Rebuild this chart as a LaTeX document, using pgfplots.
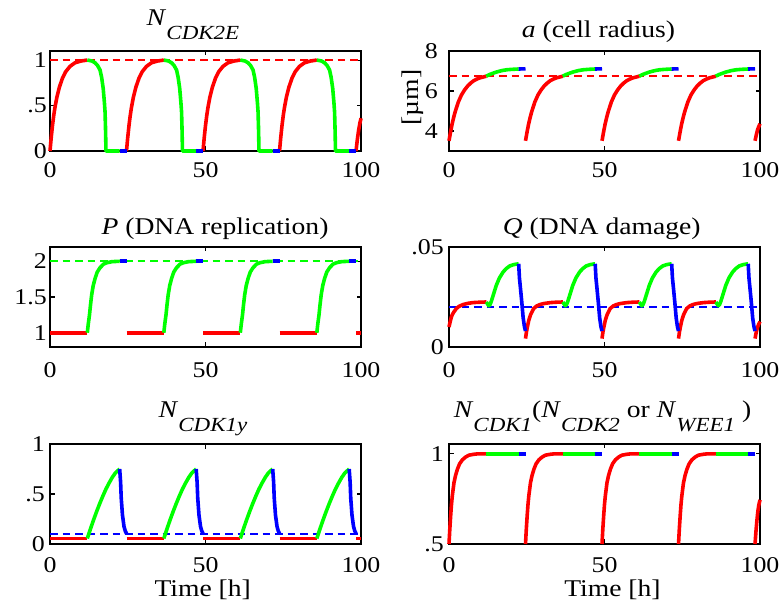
\documentclass[border=0pt]{standalone}
\usepackage{fontspec}
\setmainfont{Liberation Serif}
\usepackage{graphicx}
\usepackage{pgfplots}
\pgfplotsset{compat=1.18}
\newcommand\sx[1]{\scalebox{1.15}[1]{#1}}
\newcommand\sub[1]{\raisebox{-14bp}{\fontsize{20bp}{21bp}\selectfont\textit{#1}}}
\definecolor{mred}{rgb}{1,0,0}
\definecolor{mgreen}{rgb}{0,1,0}
\definecolor{mblue}{rgb}{0,0,1}
\pgfplotsset{
  mat/.style={
    scale only axis, width=311bp, height=100bp, anchor=south west,
    xmin=0, xmax=100, xtick={0,50,100}, xticklabels={\sx{0},\sx{50},\sx{100}},
    scaled ticks=false,
    tick align=inside, xtick pos=both, ytick pos=both,
    xticklabel pos=lower, yticklabel pos=left,
    major tick length=4.5bp,
    axis line style={line width=1.3bp, black},
    every tick/.style={black, line width=1.1bp},
    tick label style={font=\fontsize{22.5bp}{24bp}\selectfont, inner sep=0pt},
    xticklabel style={anchor=north},
    yticklabel style={anchor=east},
    clip=false,
  },
  r/.style={mred, line width=3.6bp, line join=round},
  g/.style={mgreen, line width=3.6bp, line join=round},
  b/.style={mblue, line width=3.6bp, line join=round},
  rd/.style={mred, line width=1.9bp, dash pattern=on 7.5bp off 5bp},
  gd/.style={mgreen, line width=1.9bp, dash pattern=on 7.5bp off 5bp},
  bd/.style={mblue, line width=1.9bp, dash pattern=on 7.5bp off 5bp},
}
\begin{document}
\begin{tikzpicture}
\path[use as bounding box] (0,0) rectangle (781bp,610bp);
\fontsize{24bp}{28bp}\selectfont
% ---------------- P1 N_CDK2E
\begin{axis}[mat, at={(50bp,459bp)}, ymin=0, ymax=1.1, ytick={0,0.5,1}, yticklabels={\sx{0},\sx{.5},\sx{1}}, xticklabel style={yshift=-11bp}, yticklabel style={xshift=-3bp}]
\addplot[rd] coordinates {(0,1) (100,1)};
\addplot[r] coordinates {(0,0) (0.4,0.15) (0.8,0.28) (1.2,0.39) (1.6,0.48) (2.2,0.59) (3,0.70) (4,0.80) (5,0.87) (6.4,0.93) (8,0.97) (10,0.99) (12,1.0)};
\addplot[r] coordinates {(24.6,0) (25.0,0.15) (25.4,0.28) (25.8,0.39) (26.2,0.48) (26.8,0.59) (27.6,0.70) (28.6,0.80) (29.6,0.87) (31.0,0.93) (32.6,0.97) (34.6,0.99) (36.6,1.0)};
\addplot[r] coordinates {(49.2,0) (49.6,0.15) (50.0,0.28) (50.4,0.39) (50.8,0.48) (51.4,0.59) (52.2,0.70) (53.2,0.80) (54.2,0.87) (55.6,0.93) (57.2,0.97) (59.2,0.99) (61.2,1.0)};
\addplot[r] coordinates {(73.8,0) (74.2,0.15) (74.6,0.28) (75.0,0.39) (75.4,0.48) (76.0,0.59) (76.8,0.70) (77.8,0.80) (78.8,0.87) (80.2,0.93) (81.8,0.97) (83.8,0.99) (85.8,1.0)};
\addplot[r] coordinates {(98.4,0) (98.8,0.12) (99.2,0.22) (99.6,0.30) (100,0.36)};
\addplot[g] coordinates {(12,1.0) (13.5,0.99) (14.5,0.97) (15.3,0.94) (16.1,0.89) (16.6,0.81) (17.1,0.69) (17.5,0.53) (17.7,0.43) (17.85,0.25) (18,0) (22.4,0)};
\addplot[g] coordinates {(36.6,1.0) (38.1,0.99) (39.1,0.97) (39.9,0.94) (40.7,0.89) (41.2,0.81) (41.7,0.69) (42.1,0.53) (42.3,0.43) (42.45,0.25) (42.6,0) (47.0,0)};
\addplot[g] coordinates {(61.2,1.0) (62.7,0.99) (63.7,0.97) (64.5,0.94) (65.3,0.89) (65.8,0.81) (66.3,0.69) (66.7,0.53) (66.9,0.43) (67.05,0.25) (67.2,0) (71.6,0)};
\addplot[g] coordinates {(85.8,1.0) (87.3,0.99) (88.3,0.97) (89.1,0.94) (89.9,0.89) (90.4,0.81) (90.9,0.69) (91.3,0.53) (91.5,0.43) (91.65,0.25) (91.8,0) (96.2,0)};
\addplot[b] coordinates {(22.4,0) (24.6,0)};
\addplot[b] coordinates {(47.0,0) (49.2,0)};
\addplot[b] coordinates {(71.6,0) (73.8,0)};
\addplot[b] coordinates {(96.2,0) (98.4,0)};
\end{axis}
% ---------------- P2 a
\begin{axis}[mat, at={(449bp,459bp)}, ymin=3, ymax=8, ytick={4,6,8}, yticklabels={\sx{4},\sx{6},\sx{8}}, xticklabel style={yshift=-11.5bp}, yticklabel style={xshift=-11bp}]
\addplot[rd] coordinates {(0,6.74) (100,6.74)};
\addplot[r] coordinates {(0,3.51) (0.5,3.95) (1,4.35) (1.5,4.68) (2,4.97) (3,5.45) (4,5.8) (5,6.05) (6,6.25) (7,6.4) (8,6.52) (9,6.6) (10,6.66) (11,6.7) (12,6.74)};
\addplot[r] coordinates {(24.6,3.51) (25.1,3.95) (25.6,4.35) (26.1,4.68) (26.6,4.97) (27.6,5.45) (28.6,5.8) (29.6,6.05) (30.6,6.25) (31.6,6.4) (32.6,6.52) (33.6,6.6) (34.6,6.66) (35.6,6.7) (36.6,6.74)};
\addplot[r] coordinates {(49.2,3.51) (49.7,3.95) (50.2,4.35) (50.7,4.68) (51.2,4.97) (52.2,5.45) (53.2,5.8) (54.2,6.05) (55.2,6.25) (56.2,6.4) (57.2,6.52) (58.2,6.6) (59.2,6.66) (60.2,6.7) (61.2,6.74)};
\addplot[r] coordinates {(73.8,3.51) (74.3,3.95) (74.8,4.35) (75.3,4.68) (75.8,4.97) (76.8,5.45) (77.8,5.8) (78.8,6.05) (79.8,6.25) (80.8,6.4) (81.8,6.52) (82.8,6.6) (83.8,6.66) (84.8,6.7) (85.8,6.74)};
\addplot[r] coordinates {(98.4,3.51) (98.8,3.8) (99.2,4.05) (99.6,4.22) (100,4.36)};
\addplot[g] coordinates {(12,6.74) (13,6.82) (14,6.88) (15.3,6.95) (17,7.02) (18.5,7.06) (20,7.08) (22.4,7.1)};
\addplot[g] coordinates {(36.6,6.74) (37.6,6.82) (38.6,6.88) (39.9,6.95) (41.6,7.02) (43.1,7.06) (44.6,7.08) (47.0,7.1)};
\addplot[g] coordinates {(61.2,6.74) (62.2,6.82) (63.2,6.88) (64.5,6.95) (66.2,7.02) (67.7,7.06) (69.2,7.08) (71.6,7.1)};
\addplot[g] coordinates {(85.8,6.74) (86.8,6.82) (87.8,6.88) (89.1,6.95) (90.8,7.02) (92.3,7.06) (93.8,7.08) (96.2,7.1)};
\addplot[b] coordinates {(22.4,7.1) (24.6,7.11)};
\addplot[b] coordinates {(47.0,7.1) (49.2,7.11)};
\addplot[b] coordinates {(71.6,7.1) (73.8,7.11)};
\addplot[b] coordinates {(96.2,7.1) (98.4,7.11)};
\end{axis}
% ---------------- P3 P
\begin{axis}[mat, at={(50bp,263bp)}, ymin=0.8, ymax=2.2, ytick={1,1.5,2}, yticklabels={\sx{1},\sx{1.5},\sx{2}}, xticklabel style={yshift=-15bp}, yticklabel style={xshift=-3bp}]
\addplot[gd] coordinates {(0,2) (100,2)};
\addplot[r] coordinates {(0,1) (12,1)};
\addplot[r] coordinates {(24.6,1) (36.6,1)};
\addplot[r] coordinates {(49.2,1) (61.2,1)};
\addplot[r] coordinates {(73.8,1) (85.8,1)};
\addplot[r] coordinates {(98.4,1) (100,1)};
\addplot[g] coordinates {(12,1.0) (12.3,1.12) (12.7,1.25) (13.0,1.38) (13.4,1.53) (13.9,1.66) (14.5,1.76) (15.2,1.85) (16.1,1.91) (17.2,1.96) (18.3,1.98) (20,1.995) (22.4,2.0)};
\addplot[g] coordinates {(36.6,1.0) (36.9,1.12) (37.3,1.25) (37.6,1.38) (38.0,1.53) (38.5,1.66) (39.1,1.76) (39.8,1.85) (40.7,1.91) (41.8,1.96) (42.9,1.98) (44.6,1.995) (47.0,2.0)};
\addplot[g] coordinates {(61.2,1.0) (61.5,1.12) (61.9,1.25) (62.2,1.38) (62.6,1.53) (63.1,1.66) (63.7,1.76) (64.4,1.85) (65.3,1.91) (66.4,1.96) (67.5,1.98) (69.2,1.995) (71.6,2.0)};
\addplot[g] coordinates {(85.8,1.0) (86.1,1.12) (86.5,1.25) (86.8,1.38) (87.2,1.53) (87.7,1.66) (88.3,1.76) (89.0,1.85) (89.9,1.91) (91.0,1.96) (92.1,1.98) (93.8,1.995) (96.2,2.0)};
\addplot[b] coordinates {(22.4,2) (24.6,2)};
\addplot[b] coordinates {(47.0,2) (49.2,2)};
\addplot[b] coordinates {(71.6,2) (73.8,2)};
\addplot[b] coordinates {(96.2,2) (98.4,2)};
\end{axis}
% ---------------- P4 Q
\begin{axis}[mat, at={(449bp,263bp)}, ymin=0, ymax=0.05, ytick={0,0.05}, yticklabels={\sx{0},\sx{.05}}, xticklabel style={yshift=-15bp}, yticklabel style={xshift=-5bp}]
\addplot[bd] coordinates {(0,0.02) (100,0.02)};
\addplot[r] coordinates {(0,0.0100) (0.4,0.0128) (0.75,0.0150) (1.2,0.0166) (1.7,0.0178) (2.35,0.0192) (3.2,0.0203) (4.5,0.0212) (6,0.0218) (7.7,0.0222) (10,0.0224) (12,0.0225)};
\addplot[r] coordinates {(24.6,0.0042) (24.9,0.0075) (25.2,0.0100) (25.65,0.0133) (26.2,0.0160) (27.2,0.0192) (28.2,0.0205) (29.2,0.0212) (30.4,0.0217) (32.6,0.0222) (34.6,0.0224) (36.6,0.0225)};
\addplot[r] coordinates {(49.2,0.0042) (49.5,0.0075) (49.8,0.0100) (50.25,0.0133) (50.8,0.0160) (51.8,0.0192) (52.8,0.0205) (53.8,0.0212) (55.0,0.0217) (57.2,0.0222) (59.2,0.0224) (61.2,0.0225)};
\addplot[r] coordinates {(73.8,0.0042) (74.1,0.0075) (74.4,0.0100) (74.85,0.0133) (75.4,0.0160) (76.4,0.0192) (77.4,0.0205) (78.4,0.0212) (79.6,0.0217) (81.8,0.0222) (83.8,0.0224) (85.8,0.0225)};
\addplot[r] coordinates {(98.4,0.0042) (98.8,0.0075) (99.2,0.0098) (99.6,0.0115) (100,0.0127)};
\addplot[g] coordinates {(12,0.0225) (12.4,0.0215) (12.8,0.0206) (13.2,0.0212) (13.6,0.0228) (14.4,0.0268) (15.2,0.0308) (16.2,0.0345) (17.4,0.0375) (18.4,0.0392) (19.5,0.0405) (20.8,0.0412) (22.4,0.0416)};
\addplot[g] coordinates {(36.6,0.0225) (37.0,0.0215) (37.4,0.0206) (37.8,0.0212) (38.2,0.0228) (39.0,0.0268) (39.8,0.0308) (40.8,0.0345) (42.0,0.0375) (43.0,0.0392) (44.1,0.0405) (45.4,0.0412) (47.0,0.0416)};
\addplot[g] coordinates {(61.2,0.0225) (61.6,0.0215) (62.0,0.0206) (62.4,0.0212) (62.8,0.0228) (63.6,0.0268) (64.4,0.0308) (65.4,0.0345) (66.6,0.0375) (67.6,0.0392) (68.7,0.0405) (70.0,0.0412) (71.6,0.0416)};
\addplot[g] coordinates {(85.8,0.0225) (86.2,0.0215) (86.6,0.0206) (87.0,0.0212) (87.4,0.0228) (88.2,0.0268) (89.0,0.0308) (90.0,0.0345) (91.2,0.0375) (92.2,0.0392) (93.3,0.0405) (94.6,0.0412) (96.2,0.0416)};
\addplot[b] coordinates {(22.4,0.0416) (22.65,0.0345) (23.0,0.0290) (23.4,0.0225) (23.85,0.0145) (24.25,0.0102) (24.6,0.0080)};
\addplot[b] coordinates {(47.0,0.0416) (47.25,0.0345) (47.6,0.0290) (48.0,0.0225) (48.45,0.0145) (48.85,0.0102) (49.2,0.0080)};
\addplot[b] coordinates {(71.6,0.0416) (71.85,0.0345) (72.2,0.0290) (72.6,0.0225) (73.05,0.0145) (73.45,0.0102) (73.8,0.0080)};
\addplot[b] coordinates {(96.2,0.0416) (96.45,0.0345) (96.8,0.0290) (97.2,0.0225) (97.65,0.0145) (98.05,0.0102) (98.4,0.0080)};
\end{axis}
% ---------------- P5 N_CDK1y
\begin{axis}[mat, at={(50bp,66bp)}, ymin=0, ymax=1, ytick={0,0.5,1}, yticklabels={\sx{0},\sx{.5},\sx{1}}, xticklabel style={yshift=-13bp}, yticklabel style={xshift=-5bp}]
\addplot[bd] coordinates {(0,0.1) (100,0.1)};
\addplot[r] coordinates {(0,0.055) (12,0.055)};
\addplot[r] coordinates {(24.6,0.055) (36.6,0.055)};
\addplot[r] coordinates {(49.2,0.055) (61.2,0.055)};
\addplot[r] coordinates {(73.8,0.055) (85.8,0.055)};
\addplot[r] coordinates {(98.4,0.055) (100,0.055)};
\addplot[g] coordinates {(12,0.055) (13,0.15) (14,0.24) (15,0.325) (16,0.405) (17,0.48) (18,0.55) (19,0.61) (20,0.665) (21,0.71) (22.4,0.75)};
\addplot[g] coordinates {(36.6,0.055) (37.6,0.15) (38.6,0.24) (39.6,0.325) (40.6,0.405) (41.6,0.48) (42.6,0.55) (43.6,0.61) (44.6,0.665) (45.6,0.71) (47.0,0.75)};
\addplot[g] coordinates {(61.2,0.055) (62.2,0.15) (63.2,0.24) (64.2,0.325) (65.2,0.405) (66.2,0.48) (67.2,0.55) (68.2,0.61) (69.2,0.665) (70.2,0.71) (71.6,0.75)};
\addplot[g] coordinates {(85.8,0.055) (86.8,0.15) (87.8,0.24) (88.8,0.325) (89.8,0.405) (90.8,0.48) (91.8,0.55) (92.8,0.61) (93.8,0.665) (94.8,0.71) (96.2,0.75)};
\addplot[b] coordinates {(22.4,0.75) (22.7,0.62) (22.9,0.46) (23.3,0.29) (23.8,0.175) (24.2,0.13) (24.6,0.105)};
\addplot[b] coordinates {(47.0,0.75) (47.3,0.62) (47.5,0.46) (47.9,0.29) (48.4,0.175) (48.8,0.13) (49.2,0.105)};
\addplot[b] coordinates {(71.6,0.75) (71.9,0.62) (72.1,0.46) (72.5,0.29) (73.0,0.175) (73.4,0.13) (73.8,0.105)};
\addplot[b] coordinates {(96.2,0.75) (96.5,0.62) (96.7,0.46) (97.1,0.29) (97.6,0.175) (98.0,0.13) (98.4,0.105)};
\end{axis}
% ---------------- P6 N_CDK1
\begin{axis}[mat, at={(449bp,66bp)}, ymin=0.5, ymax=1.055, ytick={0.5,1}, yticklabels={\sx{.5},\sx{1}}, xticklabel style={yshift=-13bp}, yticklabel style={xshift=-5bp}]
\addplot[r] coordinates {(0,0.5) (0.25,0.58) (0.54,0.658) (0.8,0.72) (1.07,0.768) (1.6,0.84) (2.1,0.88) (2.7,0.915) (3.4,0.945) (4.3,0.967) (5.3,0.982) (6.4,0.993) (8,0.998) (9.1,1.0) (12,1.0)};
\addplot[r] coordinates {(24.6,0.5) (24.85,0.58) (25.14,0.658) (25.4,0.72) (25.67,0.768) (26.2,0.84) (26.7,0.88) (27.3,0.915) (28.0,0.945) (28.9,0.967) (29.9,0.982) (31.0,0.993) (32.6,0.998) (33.7,1.0) (36.6,1.0)};
\addplot[r] coordinates {(49.2,0.5) (49.45,0.58) (49.74,0.658) (50.0,0.72) (50.27,0.768) (50.8,0.84) (51.3,0.88) (51.9,0.915) (52.6,0.945) (53.5,0.967) (54.5,0.982) (55.6,0.993) (57.2,0.998) (58.3,1.0) (61.2,1.0)};
\addplot[r] coordinates {(73.8,0.5) (74.05,0.58) (74.34,0.658) (74.6,0.72) (74.87,0.768) (75.4,0.84) (75.9,0.88) (76.5,0.915) (77.2,0.945) (78.1,0.967) (79.1,0.982) (80.2,0.993) (81.8,0.998) (82.9,1.0) (85.8,1.0)};
\addplot[r] coordinates {(98.4,0.5) (98.7,0.57) (99.0,0.63) (99.3,0.68) (99.6,0.715) (100,0.745)};
\addplot[g] coordinates {(12,1) (22.4,1)};
\addplot[g] coordinates {(36.6,1) (47.0,1)};
\addplot[g] coordinates {(61.2,1) (71.6,1)};
\addplot[g] coordinates {(85.8,1) (96.2,1)};
\addplot[b] coordinates {(22.4,1) (24.6,1)};
\addplot[b] coordinates {(47.0,1) (49.2,1)};
\addplot[b] coordinates {(71.6,1) (73.8,1)};
\addplot[b] coordinates {(96.2,1) (98.4,1)};
\end{axis}
% ---------------- titles and labels
\node[anchor=base, inner sep=0pt] at (193bp,584.5bp) {\sx{\textit{N}\sub{CDK2E}}};
\node[anchor=base, inner sep=0pt] at (598.5bp,572.7bp) {\sx{\textit{a} (cell radius)}};
\node[anchor=base, inner sep=0pt] at (215bp,375bp) {\sx{\textit{P} (DNA replication)}};
\node[anchor=base, inner sep=0pt] at (601.7bp,375bp) {\sx{\textit{Q} (DNA damage)}};
\node[anchor=base, inner sep=0pt] at (203bp,192.5bp) {\sx{\textit{N}\sub{CDK1y}}};
\node[anchor=base, inner sep=0pt] at (602.5bp,192bp) {\sx{\textit{N}\sub{CDK1}(\textit{N}\sub{CDK2} or \textit{N}\sub{WEE1} )}};
\node[anchor=center, inner sep=0pt, rotate=90] at (412.5bp,512.5bp) {\sx{[µm]}};
\node[anchor=base, inner sep=0pt] at (202.7bp,13.3bp) {\sx{Time [h]}};
\node[anchor=base, inner sep=0pt] at (612.5bp,13.3bp) {\sx{Time [h]}};
\end{tikzpicture}
\end{document}
